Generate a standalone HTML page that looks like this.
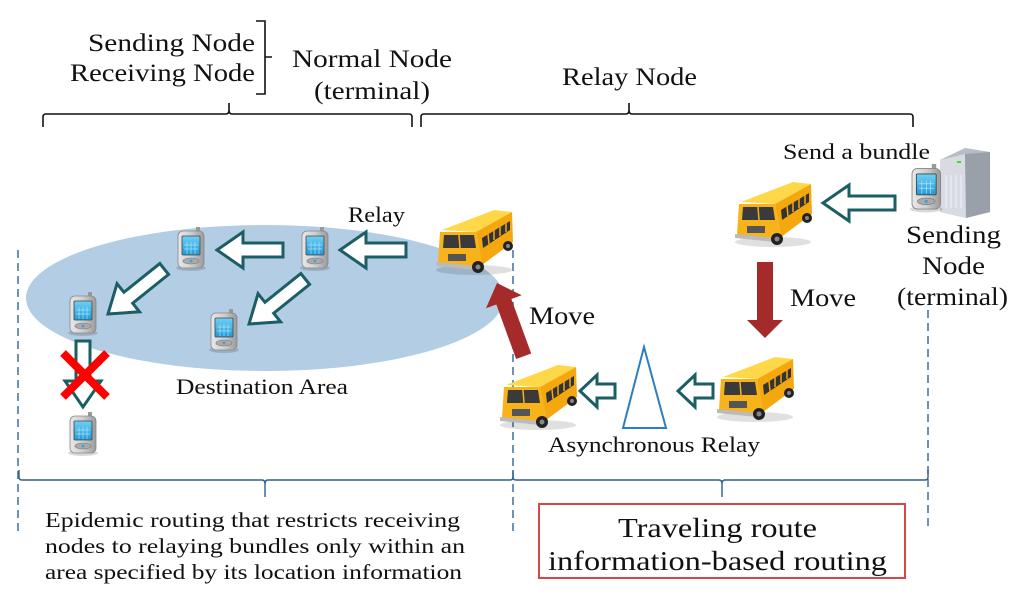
<!DOCTYPE html>
<html><head><meta charset="utf-8"><style>
html,body{margin:0;padding:0;background:#fff;width:1024px;height:598px;overflow:hidden}
svg{display:block}
text{font-family:"Liberation Serif",serif;fill:#111}
</style></head><body>
<svg width="1024" height="598" viewBox="0 0 1024 598" xmlns="http://www.w3.org/2000/svg">
<defs>
<linearGradient id="ph" x1="0" y1="0" x2="1" y2="0"><stop offset="0" stop-color="#e8e8e8"/><stop offset="0.5" stop-color="#cfcfcf"/><stop offset="1" stop-color="#9a9a9a"/></linearGradient>
<linearGradient id="scr" x1="0" y1="0" x2="0" y2="1"><stop offset="0" stop-color="#6fd0f5"/><stop offset="1" stop-color="#1f9ad8"/></linearGradient>
<g id="phone">
<ellipse cx="13" cy="41" rx="15" ry="3" fill="#000" opacity="0.15"/>
<rect x="18" y="0" width="4" height="6" fill="#999"/>
<rect x="0" y="4" width="26" height="37" rx="5" fill="url(#ph)" stroke="#888" stroke-width="0.8"/>
<rect x="4" y="9" width="18" height="19" rx="1" fill="url(#scr)" stroke="#444" stroke-width="0.8"/>
<g stroke="#bfe9fb" stroke-width="0.6"><line x1="6" y1="18" x2="20" y2="18"/><line x1="6" y1="22" x2="20" y2="22"/><line x1="9" y1="15" x2="9" y2="27"/><line x1="13" y1="15" x2="13" y2="27"/><line x1="17" y1="15" x2="17" y2="27"/></g>
<ellipse cx="13" cy="34" rx="8" ry="3" fill="#aaa" stroke="#777" stroke-width="0.6"/>
<circle cx="13" cy="34" r="1.4" fill="#3aa0e0"/>
</g>
<g id="bus">
<ellipse cx="38" cy="62" rx="38" ry="5" fill="#000" opacity="0.12"/>
<polygon points="6,22 58,2 76,4 40,24" fill="#ffd84a"/>
<polygon points="40,24 76,4 77,34 46,57" fill="#f5a80d"/>
<polygon points="4,24 40,24 46,57 42,62 2,55" fill="#f8b31a"/>
<polygon points="8,27 38,27 40,40 7,40" fill="#3a3a3a"/>
<line x1="23" y1="27" x2="24" y2="40" stroke="#f8b31a" stroke-width="1.5"/>
<polygon points="46,30 74,13 74,22 47,40" fill="#333"/>
<g stroke="#f5a80d" stroke-width="1.5"><line x1="52" y1="26" x2="53" y2="36"/><line x1="58" y1="22" x2="58" y2="32"/><line x1="64" y1="18" x2="64" y2="28"/><line x1="70" y1="15" x2="70" y2="24"/></g>
<rect x="12" y="46" width="18" height="7" fill="#555"/>
<polygon points="0,54 40,58 40,62 0,58" fill="#bbb"/>
<circle cx="42" cy="59" r="6" fill="#222"/><circle cx="42" cy="59" r="2.5" fill="#888"/>
<circle cx="72" cy="38" r="5" fill="#222"/><circle cx="72" cy="38" r="2" fill="#888"/>
</g>
</defs>

<text x="88" y="51" font-size="25" textLength="167" lengthAdjust="spacingAndGlyphs">Sending Node</text>
<text x="70" y="81" font-size="25" textLength="185" lengthAdjust="spacingAndGlyphs">Receiving Node</text>
<path d="M256,21 H265 V57 M265,57 H272 M265,57 V94 H256" fill="none" stroke="#111" stroke-width="1.6"/>
<text x="292" y="67" font-size="25" textLength="160" lengthAdjust="spacingAndGlyphs">Normal Node</text>
<text x="314" y="99" font-size="25" textLength="116" lengthAdjust="spacingAndGlyphs">(terminal)</text>
<text x="562" y="85" font-size="25" textLength="135" lengthAdjust="spacingAndGlyphs">Relay Node</text>
<path d="M43,127 V117 Q43,114 46,114 H226 Q229,114 229,110 V103 M229,110 Q229,114 232,114 H409 Q412,114 412,117 V127" fill="none" stroke="#111" stroke-width="1.6"/>
<path d="M421,127 V117 Q421,114 424,114 H626 Q629,114 629,110 V103 M629,110 Q629,114 632,114 H910 Q913,114 913,117 V127" fill="none" stroke="#111" stroke-width="1.6"/>

<ellipse cx="265" cy="298" rx="239" ry="73" fill="#b3cde4"/>

<g stroke="#3d6f9e" stroke-width="1.5" stroke-dasharray="8,5">
<line x1="18" y1="250" x2="18" y2="535"/>
<line x1="513" y1="250" x2="513" y2="535"/>
<line x1="928" y1="310" x2="928" y2="530"/>
</g>
<path d="M19,470 V477 Q19,480 22,480 H262 Q265,480 265,484 V497 M265,484 Q265,480 268,480 H510 Q513,480 513,477 V470 M513,470 V477 Q513,480 516,480 H719 Q722,480 722,484 V497 M722,484 Q722,480 725,480 H925 Q928,480 928,477 V470" fill="none" stroke="#2e5f8f" stroke-width="1.4"/>

<g fill="#fff" stroke="#1b5e63" stroke-width="3" stroke-linejoin="miter">
<polygon transform="translate(340,250)" points="0,0 26,-18 26,-7 66,-7 66,7 26,7 26,18"/>
<polygon transform="translate(217,250)" points="0,0 26,-18 26,-7 66,-7 66,7 26,7 26,18"/>
<polygon transform="translate(108,314) rotate(-38.7)" points="0,0 26,-18 26,-7 72,-7 72,7 26,7 26,18"/>
<polygon transform="translate(249,324) rotate(-38.7)" points="0,0 26,-18 26,-7 72,-7 72,7 26,7 26,18"/>
<polygon transform="translate(83,407) rotate(-90)" points="0,0 26,-18 26,-7 66,-7 66,7 26,7 26,18"/>
<polygon transform="translate(823,203)" points="0,0 26,-18 26,-7 72,-7 72,7 26,7 26,18"/>
<polygon transform="translate(580,391)" points="0,0 17,-16 17,-7 35,-7 35,7 17,7 17,16"/>
<polygon transform="translate(678,391)" points="0,0 17,-16 17,-7 35,-7 35,7 17,7 17,16"/>
</g>
<g stroke="#f00" stroke-width="8"><line x1="63" y1="353" x2="107" y2="397"/><line x1="107" y1="353" x2="63" y2="397"/></g>

<use href="#phone" x="178" y="227"/>
<use href="#phone" x="302" y="227"/>
<use href="#phone" x="70" y="292"/>
<use href="#phone" x="211" y="309"/>
<use href="#phone" x="70" y="412"/>

<polygon points="757,262 773,262 773,320 783,320 765,338 747,320 757,320" fill="#a52a2a"/>
<polygon transform="translate(497,283) rotate(70)" points="0,0 20,-19 20,-8 78,-8 78,8 20,8 20,19" fill="#a52a2a"/>

<use href="#bus" x="436" y="208"/>
<use href="#bus" x="735" y="180"/>
<use href="#bus" x="717" y="355"/>
<use href="#bus" x="500" y="363"/>

<polygon points="940,160 965,148 990,152 990,212 966,218 940,212" fill="#b8bcc4"/>
<polygon points="940,160 965,154 966,218 940,212" fill="#d8dce2"/>
<polygon points="965,154 990,152 990,212 966,218" fill="#9aa0aa"/>
<g stroke="#eef" stroke-width="1"><line x1="946" y1="175" x2="946" y2="208"/><line x1="951" y1="175" x2="951" y2="208"/><line x1="956" y1="175" x2="956" y2="208"/><line x1="961" y1="175" x2="961" y2="208"/></g>
<rect x="957" y="161" width="4" height="2" fill="#3d3"/>
<use href="#phone" transform="translate(912,164) scale(1.1)"/>

<polygon points="644,347 623,428 666,428" fill="none" stroke="#2b7fc1" stroke-width="2"/>

<text x="348" y="222" font-size="22" textLength="57" lengthAdjust="spacingAndGlyphs">Relay</text>
<text x="176" y="394" font-size="22" textLength="172" lengthAdjust="spacingAndGlyphs">Destination Area</text>
<text x="529" y="324" font-size="25" textLength="66" lengthAdjust="spacingAndGlyphs">Move</text>
<text x="790" y="306" font-size="25" textLength="66" lengthAdjust="spacingAndGlyphs">Move</text>
<text x="783" y="159" font-size="22" textLength="147" lengthAdjust="spacingAndGlyphs">Send a bundle</text>
<text x="906" y="243" font-size="25" textLength="95" lengthAdjust="spacingAndGlyphs">Sending</text>
<text x="922" y="274" font-size="25" textLength="63" lengthAdjust="spacingAndGlyphs">Node</text>
<text x="897" y="305" font-size="25" textLength="111" lengthAdjust="spacingAndGlyphs">(terminal)</text>
<text x="548" y="452" font-size="22" textLength="212" lengthAdjust="spacingAndGlyphs">Asynchronous Relay</text>

<text x="45" y="527" font-size="21" textLength="415" lengthAdjust="spacingAndGlyphs">Epidemic routing that restricts receiving</text>
<text x="45" y="553" font-size="21" textLength="420" lengthAdjust="spacingAndGlyphs">nodes to relaying bundles only within an</text>
<text x="45" y="579" font-size="21" textLength="417" lengthAdjust="spacingAndGlyphs">area specified by its location information</text>

<rect x="539" y="504" width="366" height="74" fill="#fff" stroke="#d9464a" stroke-width="2"/>
<text x="618" y="537" font-size="27" textLength="199" lengthAdjust="spacingAndGlyphs">Traveling route</text>
<text x="548" y="570" font-size="27" textLength="339" lengthAdjust="spacingAndGlyphs">information-based routing</text>
</svg>
</body></html>
